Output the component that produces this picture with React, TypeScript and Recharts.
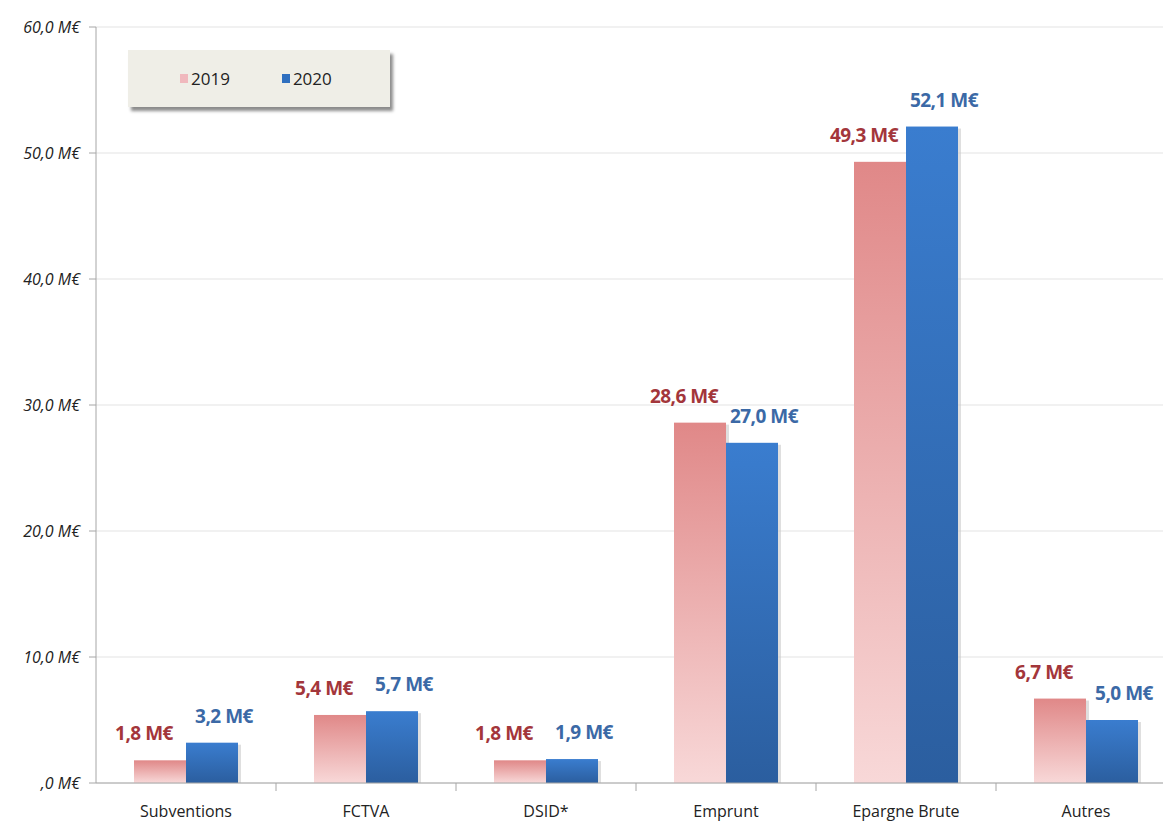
import React from 'react';
import { BarChart, Bar, XAxis, YAxis, CartesianGrid, Legend, LabelList } from 'recharts';

const categories = ['Subventions', 'FCTVA', 'DSID*', 'Emprunt', 'Epargne Brute', 'Autres'];
const values2019 = [1.8, 5.4, 1.8, 28.6, 49.3, 6.7];
const values2020 = [3.2, 5.7, 1.9, 27.0, 52.1, 5.0];
const yTicks = [0, 10, 20, 30, 40, 50, 60];

const data = categories.map((name, i) => ({ name, y2019: values2019[i], y2020: values2020[i] }));

const FONT = '"Open Sans", "DejaVu Sans", sans-serif';
const BAND = 180;

const fmt = (v: number) => v.toFixed(1).replace('.', ',') + ' M€';
const fmtAxis = (v: number) => (v === 0 ? ',0 M€' : v.toFixed(1).replace('.', ',') + ' M€');

// barre avec une petite ombre à droite
const ShadowBar = (props: any) => {
  const { x, y, width, height, fill } = props;
  if (!height || height <= 0) return null;
  return (
    <g>
      <rect x={x + 3} y={y + 2} width={width} height={height - 2} fill="#c9c9c9" opacity={0.6} />
      <rect x={x} y={y} width={width} height={height} fill={fill} />
    </g>
  );
};

const makeLabel = (color: string, shift: number) => (props: any) => {
  const { x, y, width, value } = props;
  return (
    <text
      x={x + width / 2 + shift}
      y={y - 20}
      textAnchor="middle"
      fill={color}
      fontFamily={FONT}
      fontWeight={700}
      fontSize={19}
      letterSpacing={-0.5}
    >
      {fmt(value)}
    </text>
  );
};

const XTick = (props: any) => {
  const { x, y, payload } = props;
  return (
    <g>
      <line x1={x + BAND / 2} y1={y} x2={x + BAND / 2} y2={y + 8} stroke="#a6a6a6" />
      <text x={x} y={y + 34} textAnchor="middle" fill="#222" fontFamily={FONT} fontSize={16}>
        {payload.value}
      </text>
    </g>
  );
};

const LegendBox = () => (
  <div
    style={{
      width: 262,
      height: 57,
      background: '#efeee7',
      boxShadow: '3px 4px 3px rgba(0,0,0,0.45)',
      display: 'flex',
      alignItems: 'center',
      fontFamily: FONT,
      fontSize: 17,
      color: '#222',
      boxSizing: 'border-box',
    }}
  >
    <span style={{ display: 'inline-block', width: 8, height: 9, background: '#f0b8bd', marginLeft: 52, marginRight: 3 }} />
    <span>2019</span>
    <span style={{ display: 'inline-block', width: 8, height: 9, background: '#2f6fbf', marginLeft: 52, marginRight: 3 }} />
    <span>2020</span>
  </div>
);

export default function App() {
  return (
    <div style={{ position: 'absolute', left: 0, top: 0, width: 1163, height: 826, overflow: 'hidden', background: '#fff' }}>
      <BarChart
        width={1176}
        height={826}
        data={data}
        margin={{ top: 27, right: 0, left: 0, bottom: 0 }}
        barSize={52}
        barGap={0}
      >
        <defs>
          <linearGradient id="g2019" x1="0" y1="0" x2="0" y2="1">
            <stop offset="0%" stopColor="#e08888" />
            <stop offset="100%" stopColor="#f8d8d8" />
          </linearGradient>
          <linearGradient id="g2020" x1="0" y1="0" x2="0" y2="1">
            <stop offset="0%" stopColor="#3a7dcf" />
            <stop offset="100%" stopColor="#2b5e9f" />
          </linearGradient>
        </defs>
        <CartesianGrid vertical={false} stroke="#e3e3e3" />
        <XAxis
          dataKey="name"
          height={43}
          axisLine={{ stroke: '#a6a6a6' }}
          tickLine={false}
          tickSize={0}
          tickMargin={0}
          tick={<XTick />}
          interval={0}
        />
        <YAxis
          width={96}
          domain={[0, 60]}
          ticks={yTicks}
          tickFormatter={fmtAxis}
          axisLine={{ stroke: '#a6a6a6' }}
          tickLine={{ stroke: '#a6a6a6' }}
          tickSize={7}
          tickMargin={9}
          tick={{ fill: '#222', fontFamily: FONT, fontSize: 16, fontStyle: 'italic' }}
        />
        <Legend
          layout="horizontal"
          verticalAlign="middle"
          align="center"
          content={<LegendBox />}
          wrapperStyle={{ position: 'absolute', left: 128, top: 50, width: 262, height: 57 }}
        />
        <Bar dataKey="y2019" name="2019" fill="url(#g2019)" shape={<ShadowBar />} isAnimationActive={false}>
          <LabelList dataKey="y2019" content={makeLabel('#a3363b', -16)} />
        </Bar>
        <Bar dataKey="y2020" name="2020" fill="url(#g2020)" shape={<ShadowBar />} isAnimationActive={false}>
          <LabelList dataKey="y2020" content={makeLabel('#3b69a6', 12)} />
        </Bar>
      </BarChart>
    </div>
  );
}
